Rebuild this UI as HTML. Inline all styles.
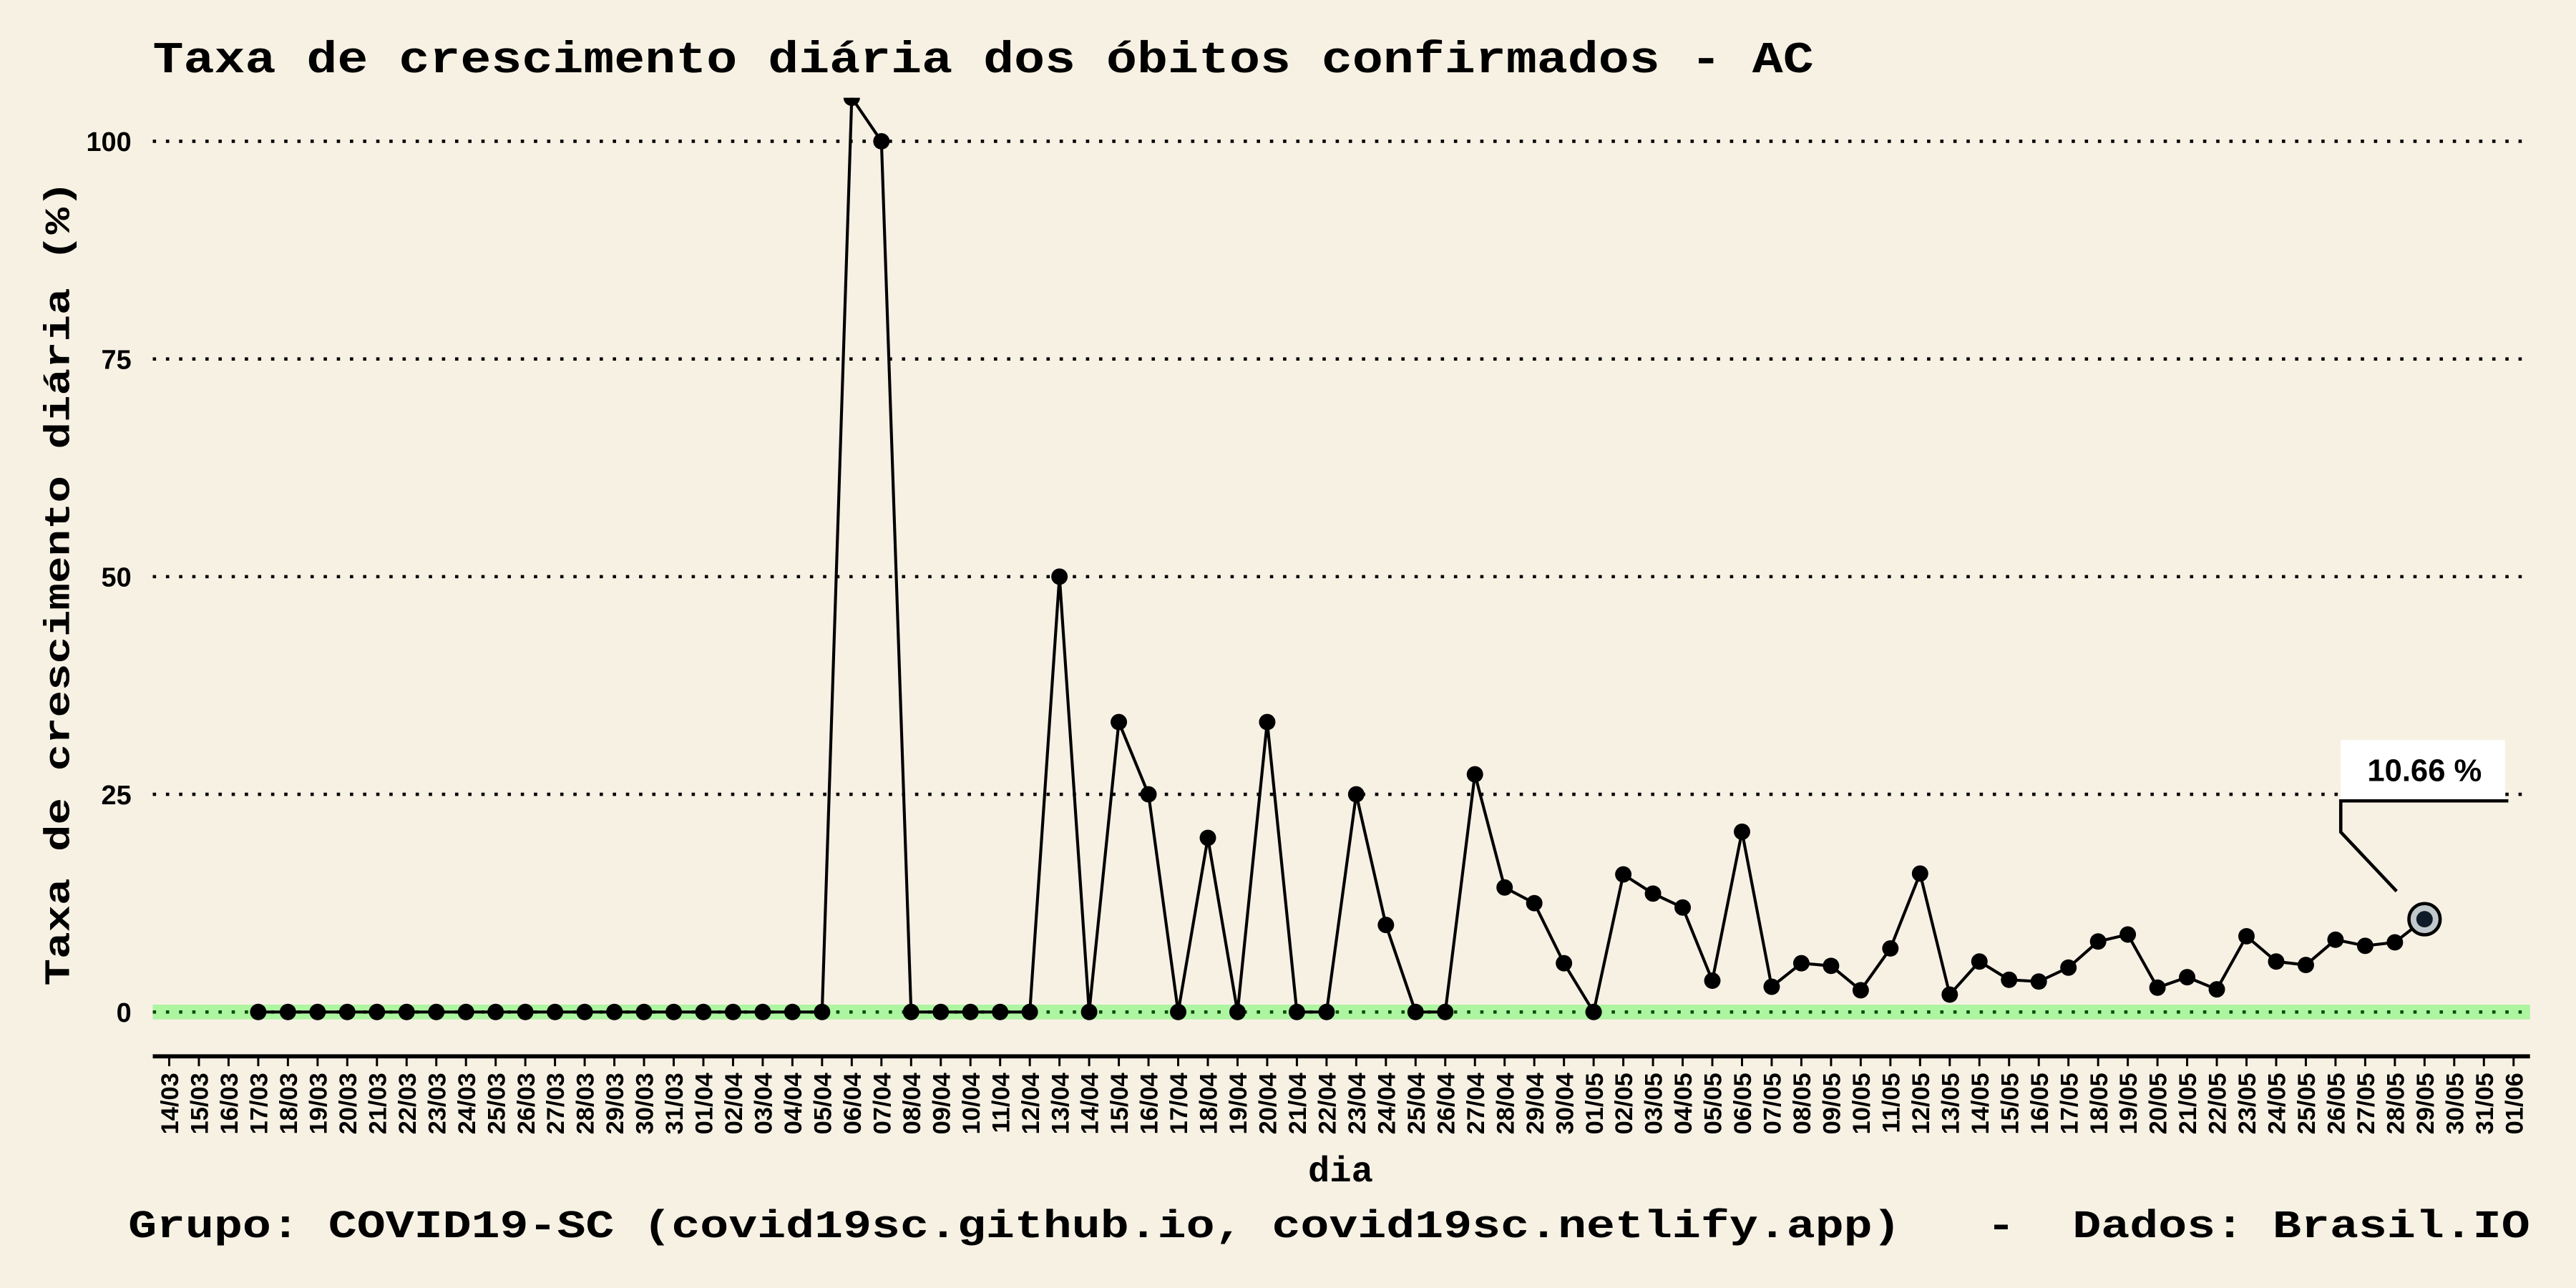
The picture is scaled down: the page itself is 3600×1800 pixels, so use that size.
<!DOCTYPE html>
<html><head><meta charset="utf-8">
<style>
html,body{margin:0;padding:0;background:#f7f1e4;}
svg{display:block;}
.mono{font-family:"Liberation Mono",monospace;font-weight:bold;}
.sans{font-family:"Liberation Sans",sans-serif;font-weight:bold;}
</style></head>
<body>
<svg id="chart" width="3600" height="1800" viewBox="0 0 1568 784" xmlns="http://www.w3.org/2000/svg">
<rect x="0" y="0" width="1568" height="784" fill="#f7f1e4"/>
<text class="mono" x="93" y="44" font-size="27" textLength="1011" lengthAdjust="spacingAndGlyphs">Taxa de crescimento diária dos óbitos confirmados - AC</text>
<text class="mono" font-size="22" transform="translate(42,355) rotate(-90)" text-anchor="middle" textLength="490" lengthAdjust="spacingAndGlyphs">Taxa de crescimento diária (%)</text>
<text class="mono" x="816" y="719" font-size="22" text-anchor="middle">dia</text>
<text class="mono" x="78" y="753" font-size="24" textLength="1462" lengthAdjust="spacingAndGlyphs" xml:space="preserve">Grupo: COVID19-SC (covid19sc.github.io, covid19sc.netlify.app)   -  Dados: Brasil.IO</text>
<g id="grid"></g>
<g id="axes"></g>
<defs><clipPath id="panel"><rect x="93" y="59.5" width="1447" height="600"/></clipPath></defs>
<g id="series" clip-path="url(#panel)"></g>
<g id="annot"></g>
</svg>
<script>
const dates = ["14/03","15/03","16/03","17/03","18/03","19/03","20/03","21/03","22/03","23/03","24/03","25/03","26/03","27/03","28/03","29/03","30/03","31/03","01/04","02/04","03/04","04/04","05/04","06/04","07/04","08/04","09/04","10/04","11/04","12/04","13/04","14/04","15/04","16/04","17/04","18/04","19/04","20/04","21/04","22/04","23/04","24/04","25/04","26/04","27/04","28/04","29/04","30/04","01/05","02/05","03/05","04/05","05/05","06/05","07/05","08/05","09/05","10/05","11/05","12/05","13/05","14/05","15/05","16/05","17/05","18/05","19/05","20/05","21/05","22/05","23/05","24/05","25/05","26/05","27/05","28/05","29/05","30/05","31/05","01/06"];
const rates = [null,null,null,0,0,0,0,0,0,0,0,0,0,0,0,0,0,0,0,0,0,0,0,105,100,0,0,0,0,0,50,0,33.3,25,0,20,0,33.3,0,0,25,10,0,0,27.3,14.3,12.5,5.6,0,15.8,13.6,12,3.6,20.7,2.9,5.6,5.3,2.5,7.3,15.9,2,5.8,3.7,3.5,5.1,8.1,8.9,2.8,4,2.6,8.7,5.8,5.4,8.3,7.6,8,10.66,null,null,null];
const yTicks = [0,25,50,75,100];
const lastLabel = "10.66 %";

const NS="http://www.w3.org/2000/svg";
const x0=103, dx=(1530-103)/79, y0=616, ky=5.3;
const X=i=>x0+i*dx, Y=v=>y0-v*ky;
function mk(tag,attrs,parent){const e=document.createElementNS(NS,tag);for(const k in attrs)e.setAttribute(k,attrs[k]);parent.appendChild(e);return e;}
const grid=document.getElementById('grid'),axes=document.getElementById('axes'),series=document.getElementById('series'),annot=document.getElementById('annot');

let band=mk('rect',{x:93,y:Y(0)-4.5,width:1447,height:9,fill:'#adf5a0'},grid);


yTicks.forEach(t=>{
  const l=mk('line',{x1:93,x2:1540,y1:Y(t),y2:Y(t),stroke:t===0?'#0a4a0a':'#000','stroke-width':2,'stroke-dasharray':'2 6'},grid);
  
  
  const tx=mk('text',{x:80,y:Y(t)+6,'text-anchor':'end','font-size':16.5,class:'sans'},axes);
  tx.textContent=t;
  
  
});
const ax=mk('line',{x1:93,x2:1540,y1:643,y2:643,stroke:'#000','stroke-width':2.5},axes);


dates.forEach((d,i)=>{
  const tk=mk('line',{x1:X(i),x2:X(i),y1:643,y2:649,stroke:'#000','stroke-width':1.3},axes);
  
  
  const tx=mk('text',{transform:`translate(${X(i)+5.5},653) rotate(-90)`,'text-anchor':'end','font-size':15,class:'sans'},axes);
  tx.textContent=d;
  
  
});
let pts=[];rates.forEach((v,i)=>{if(v!==null)pts.push([X(i),Y(v)]);});
const pl=mk('polyline',{points:pts.map(p=>p.join(',')).join(' '),fill:'none',stroke:'#000','stroke-width':1.8},series);


pts.forEach(p=>{
  const c=mk('circle',{cx:p[0],cy:p[1],r:5,fill:'#000'},series);
  
  
});
let li=-1;rates.forEach((v,i)=>{if(v!==null)li=i;});
const lx=X(li),ly=Y(rates[li]);
const hc=mk('circle',{cx:lx,cy:ly,r:9.5,fill:'#c0c8cc',stroke:'#000','stroke-width':2},annot);


const hd=mk('circle',{cx:lx,cy:ly,r:5,fill:'#0f1b28'},annot);


const bx=lx-51,by=ly-109;
const box=mk('rect',{x:bx,y:by,width:100,height:37,fill:'#fff'},annot);


const bt=mk('text',{x:bx+51,y:by+25,'text-anchor':'middle','font-size':19,class:'sans'},annot);
bt.textContent=lastLabel;


const ld=mk('polyline',{points:`${bx+102},${by+37} ${bx},${by+37} ${bx},${by+56} ${lx-17},${ly-17}`,fill:'none',stroke:'#000','stroke-width':2},annot);


</script>
</body></html>
